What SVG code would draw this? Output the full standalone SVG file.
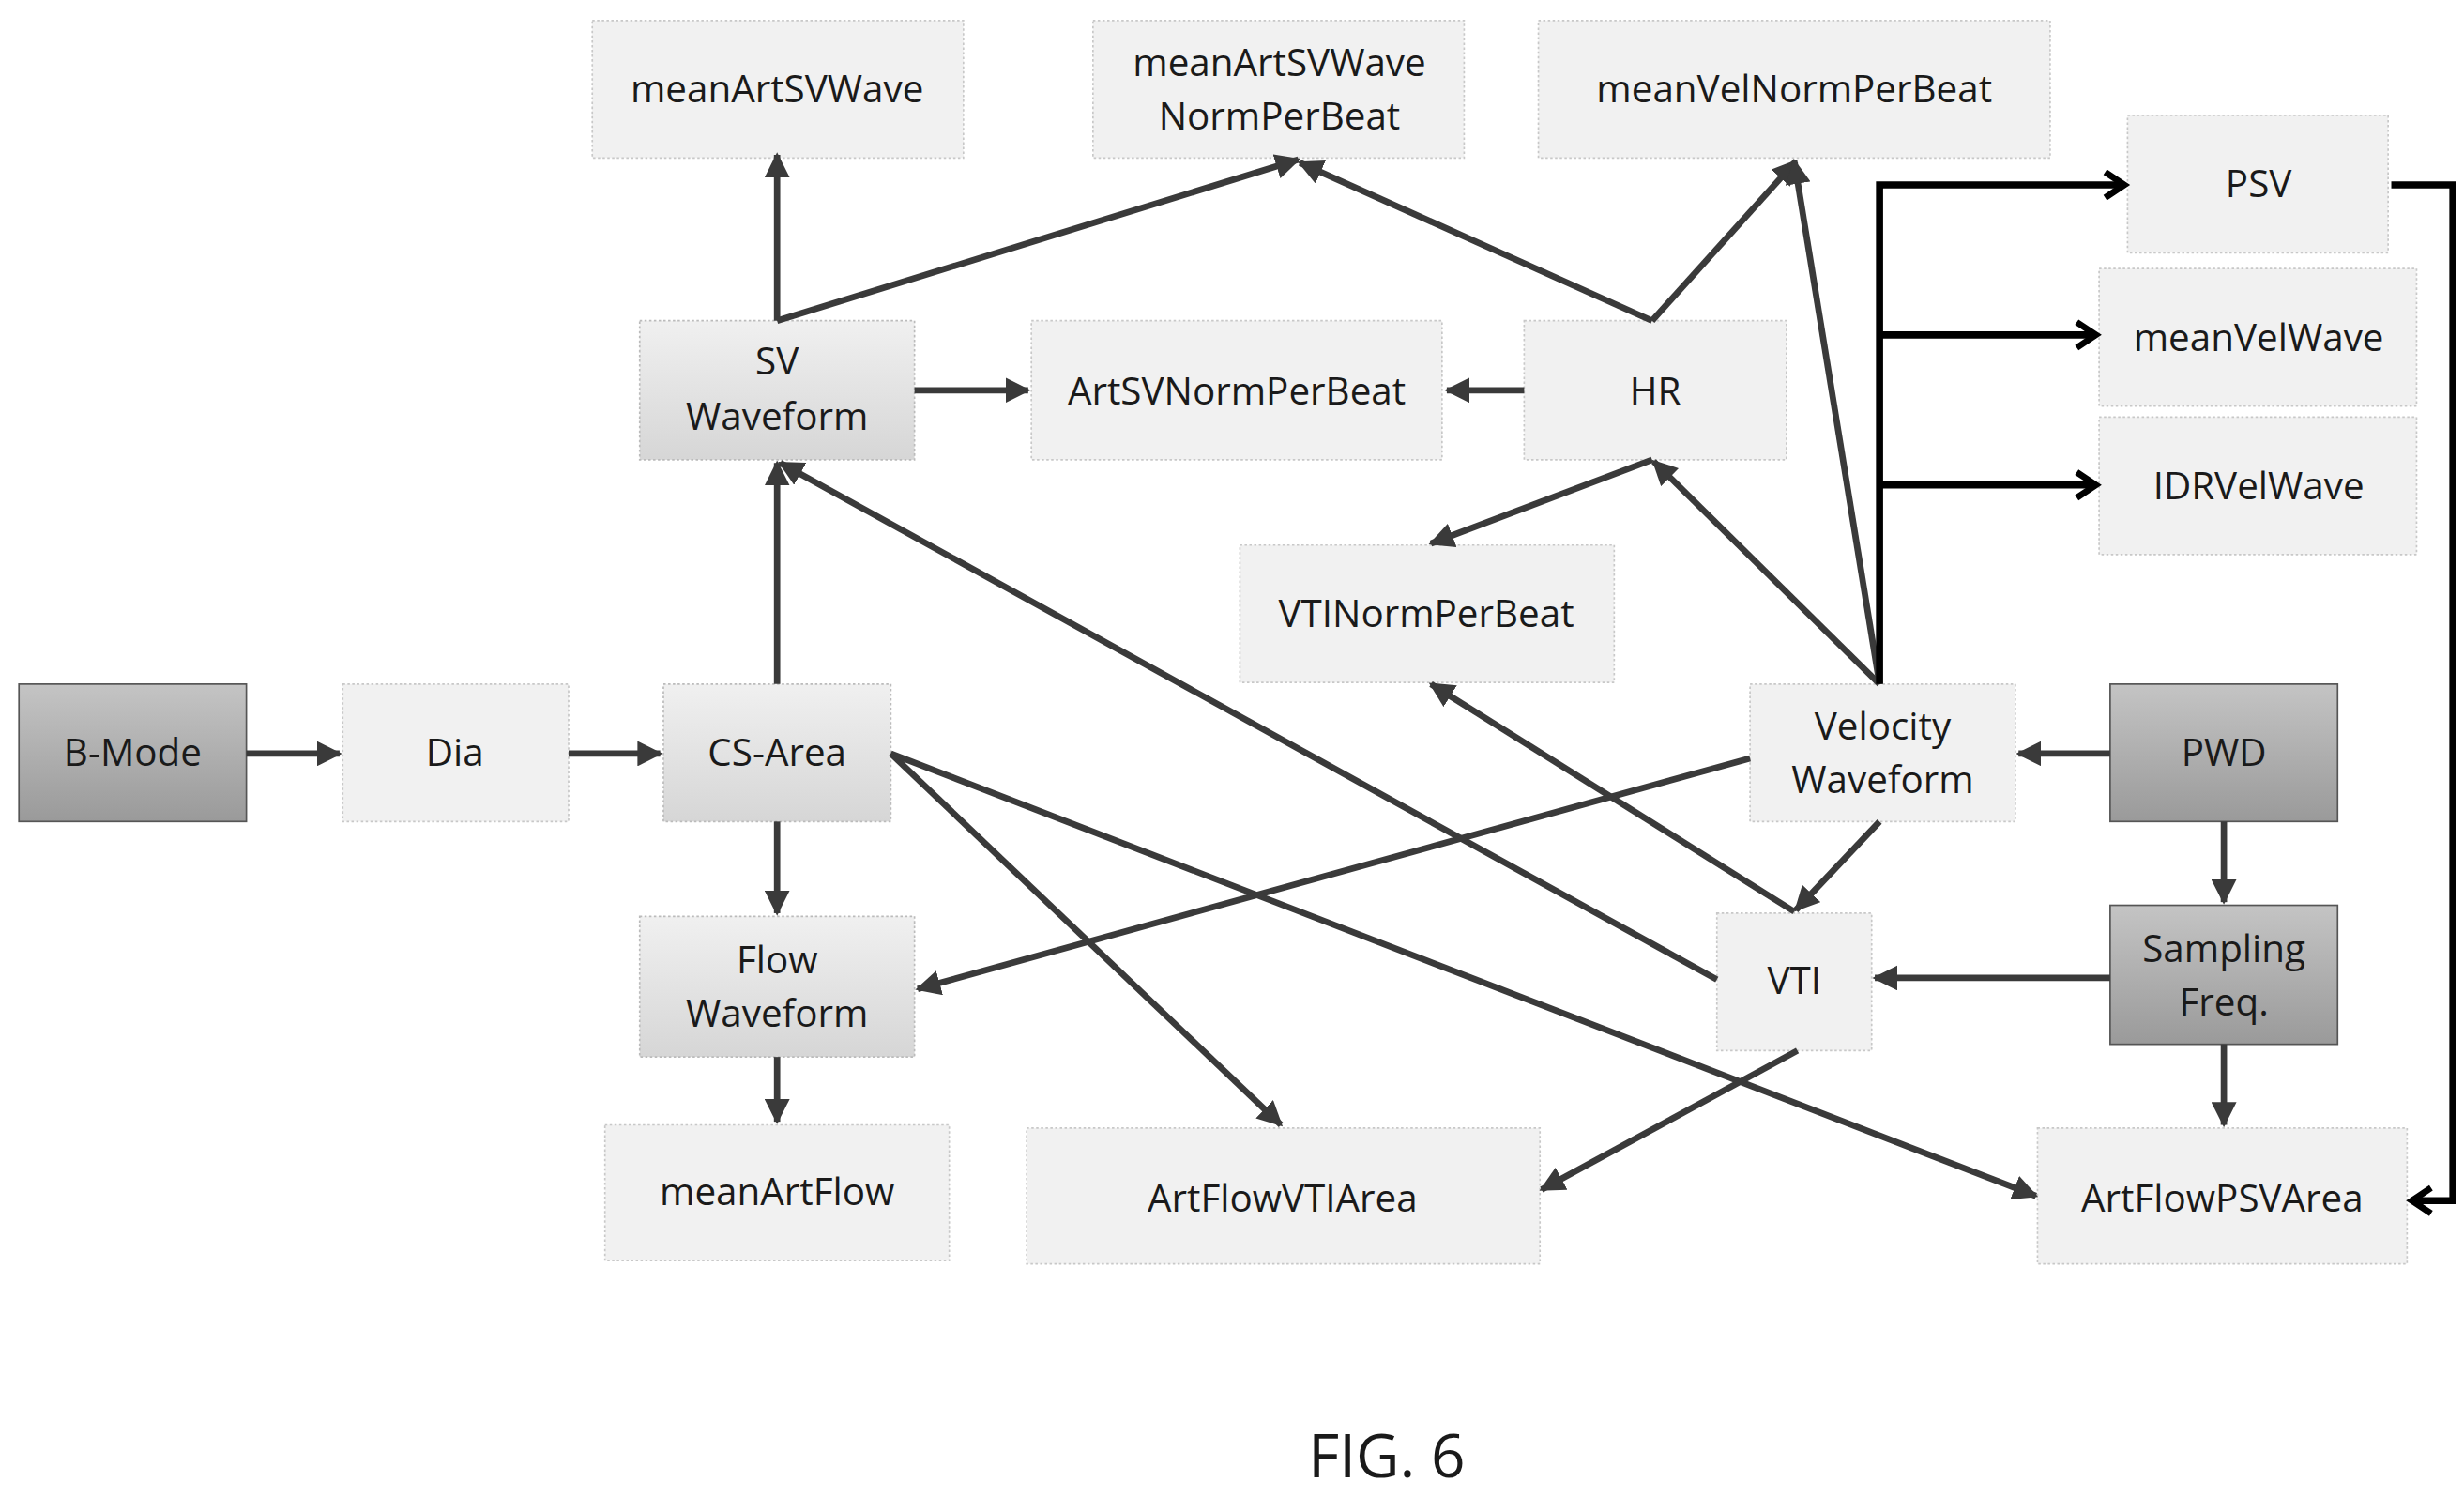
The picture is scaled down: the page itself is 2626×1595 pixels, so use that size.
<svg xmlns="http://www.w3.org/2000/svg" width="2626" height="1595" viewBox="0 0 2626 1595">
<defs>
<style>
.n rect{fill:#f1f1f1;stroke:#c8c8c8;stroke-width:1;stroke-dasharray:1.5 1.5}
.m rect{fill:url(#gm);stroke:#bbb;stroke-width:1;stroke-dasharray:1.5 1.5}
.d rect{fill:url(#gd);stroke:#555;stroke-width:1}
text{font-family:"Open Sans","Noto Sans",sans-serif;font-size:24px;fill:#1a1a1a;text-anchor:middle}
.e line,.e polyline{stroke:#3a3a3a;stroke-width:4;fill:none;marker-end:url(#a)}
.b line,.b polyline{stroke:#000;stroke-width:4.5;fill:none;marker-end:url(#c)}
</style>
<linearGradient id="gm" x1="0" y1="0" x2="0" y2="1"><stop offset="0" stop-color="#f0f0f0"/><stop offset="1" stop-color="#d6d6d6"/></linearGradient>
<linearGradient id="gd" x1="0" y1="0" x2="0" y2="1"><stop offset="0" stop-color="#c4c4c4"/><stop offset="1" stop-color="#9a9a9a"/></linearGradient>
<marker id="a" viewBox="0 0 10 10" refX="9" refY="5" markerWidth="4" markerHeight="4" orient="auto"><path d="M0,0 L10,5 L0,10 Z" fill="#3a3a3a"/></marker>
<marker id="c" viewBox="0 0 10 10" refX="8" refY="5" markerWidth="4.5" markerHeight="4.5" orient="auto"><path d="M2,1 L8,5 L2,9" fill="none" stroke="#000" stroke-width="2"/></marker>
</defs>
<rect width="2626" height="1595" fill="#fff"/>
<g transform="scale(1.6833)">
<g id="meanArtSVWave" class="n"><rect x="375" y="13" width="235" height="87"/><text x="492" y="65">meanArtSVWave</text></g>
<g id="meanArtSVWaveNormPerBeat" class="n"><rect x="692" y="13" width="235" height="87"/><text x="810" y="48">meanArtSVWave</text><text x="810" y="82">NormPerBeat</text></g>
<g id="meanVelNormPerBeat" class="n"><rect x="974" y="13" width="324" height="87"/><text x="1136" y="65">meanVelNormPerBeat</text></g>
<g id="PSV" class="n"><rect x="1347" y="73" width="165" height="87"/><text x="1430" y="125">PSV</text></g>
<g id="meanVelWave" class="n"><rect x="1329" y="170" width="201" height="87"/><text x="1430" y="222">meanVelWave</text></g>
<g id="IDRVelWave" class="n"><rect x="1329" y="264" width="201" height="87"/><text x="1430" y="316">IDRVelWave</text></g>
<g id="SVWaveform" class="m"><rect x="405" y="203" width="174" height="88"/><text x="492" y="237">SV</text><text x="492" y="272">Waveform</text></g>
<g id="ArtSVNormPerBeat" class="n"><rect x="653" y="203" width="260" height="88"/><text x="783" y="256">ArtSVNormPerBeat</text></g>
<g id="HR" class="n"><rect x="965" y="203" width="166" height="88"/><text x="1048" y="256">HR</text></g>
<g id="VTINormPerBeat" class="n"><rect x="785" y="345" width="237" height="87"/><text x="903" y="397">VTINormPerBeat</text></g>
<g id="BMode" class="d"><rect x="12" y="433" width="144" height="87"/><text x="84" y="485">B-Mode</text></g>
<g id="Dia" class="n"><rect x="217" y="433" width="143" height="87"/><text x="288" y="485">Dia</text></g>
<g id="CSArea" class="m"><rect x="420" y="433" width="144" height="87"/><text x="492" y="485">CS-Area</text></g>
<g id="VelocityWaveform" class="n"><rect x="1108" y="433" width="168" height="87"/><text x="1192" y="468">Velocity</text><text x="1192" y="502">Waveform</text></g>
<g id="PWD" class="d"><rect x="1336" y="433" width="144" height="87"/><text x="1408" y="485">PWD</text></g>
<g id="FlowWaveform" class="m"><rect x="405" y="580" width="174" height="89"/><text x="492" y="616">Flow</text><text x="492" y="650">Waveform</text></g>
<g id="VTI" class="n"><rect x="1087" y="578" width="98" height="87"/><text x="1136" y="629">VTI</text></g>
<g id="SamplingFreq" class="d"><rect x="1336" y="573" width="144" height="88"/><text x="1408" y="609">Sampling</text><text x="1408" y="643">Freq.</text></g>
<g id="meanArtFlow" class="n"><rect x="383" y="712" width="218" height="86"/><text x="492" y="763">meanArtFlow</text></g>
<g id="ArtFlowVTIArea" class="n"><rect x="650" y="714" width="325" height="86"/><text x="812" y="767">ArtFlowVTIArea</text></g>
<g id="ArtFlowPSVArea" class="n"><rect x="1290" y="714" width="234" height="86"/><text x="1407" y="767">ArtFlowPSVArea</text></g>
<g id="connectors">
<g class="e">
<line x1="156" y1="477" x2="215" y2="477"/>
<line x1="360" y1="477" x2="418" y2="477"/>
<line x1="492" y1="433" x2="492" y2="293"/>
<line x1="492" y1="203" x2="492" y2="98"/>
<line x1="492" y1="203" x2="822" y2="101"/>
<line x1="579" y1="247" x2="651" y2="247"/>
<line x1="965" y1="247" x2="916" y2="247"/>
<line x1="1046" y1="203" x2="823" y2="103"/>
<line x1="1046" y1="203" x2="1137" y2="102"/>
<line x1="1190" y1="433" x2="1136" y2="102"/>
<line x1="1190" y1="433" x2="1047" y2="292"/>
<line x1="1046" y1="291" x2="906" y2="344"/>
<line x1="1336" y1="477" x2="1278" y2="477"/>
<line x1="1408" y1="520" x2="1408" y2="571"/>
<line x1="1336" y1="619" x2="1187" y2="619"/>
<line x1="1408" y1="661" x2="1408" y2="712"/>
<line x1="1190" y1="520" x2="1137" y2="576"/>
<line x1="1136" y1="577" x2="906" y2="433"/>
<line x1="1087" y1="620" x2="494" y2="293"/>
<line x1="1108" y1="480" x2="581" y2="626"/>
<line x1="492" y1="520" x2="492" y2="578"/>
<line x1="492" y1="669" x2="492" y2="710"/>
<line x1="564" y1="477" x2="811" y2="712"/>
<line x1="564" y1="477" x2="1289" y2="757"/>
<line x1="1138" y1="665" x2="976" y2="753"/>
</g>
<g class="b">
<polyline points="1190,433 1190,117 1345,117"/>
<line x1="1190" y1="212" x2="1327" y2="212"/>
<line x1="1190" y1="307" x2="1327" y2="307"/>
<polyline points="1514,117 1553,117 1553,760 1527,760"/>
</g>
</g>
<text x="878" y="935" style="font-size:38px">FIG. 6</text>
</g>
</svg>
